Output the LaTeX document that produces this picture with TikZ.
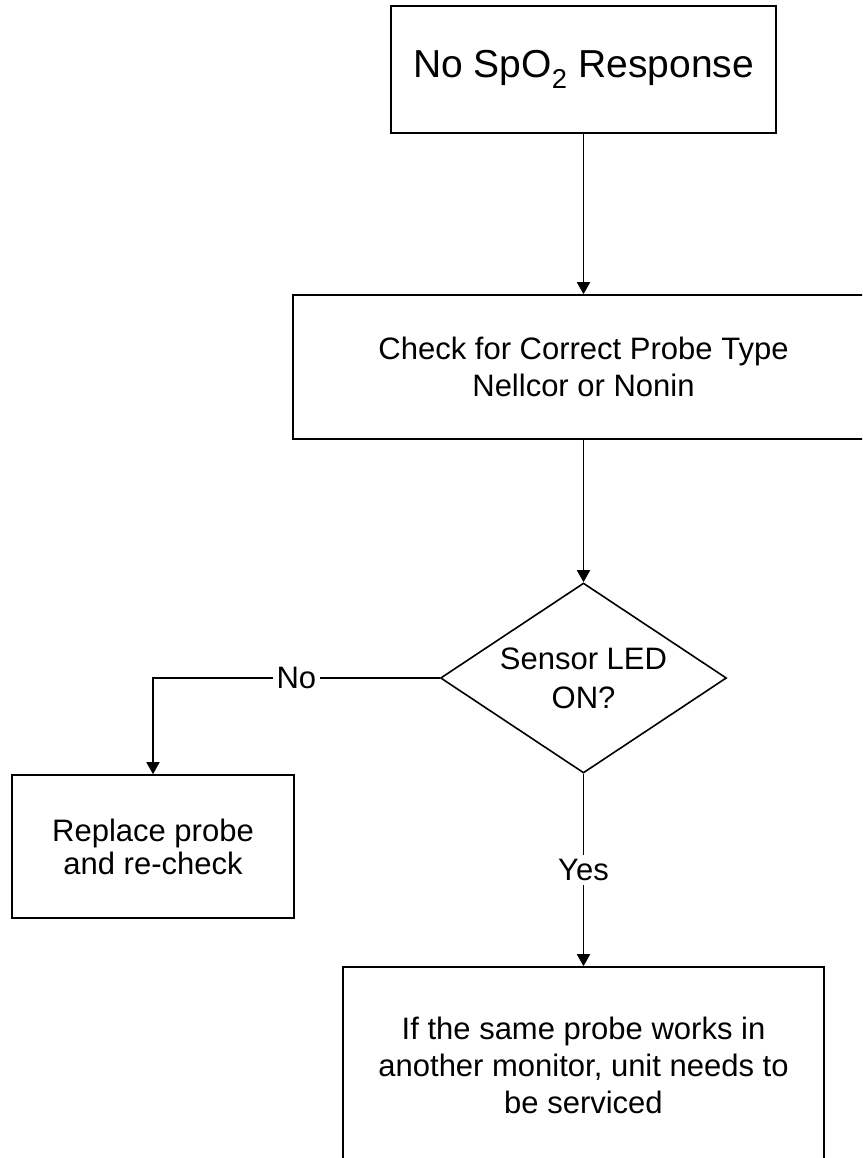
\documentclass[tikz,border=0pt]{standalone}
\usepackage{fontspec}
\setmainfont{Liberation Sans}
\usetikzlibrary{shapes.geometric,arrows.meta}

\begin{document}
\begin{tikzpicture}[x=1pt,y=-1pt,line width=1.6pt,
    >={Triangle[length=12pt,width=13pt]},
    box/.style={draw,rectangle,inner sep=0pt,align=center,
        font=\fontsize{31}{37}\selectfont},
    decision/.style={draw,diamond,aspect=1.5,inner sep=0pt,
        minimum width=286pt,minimum height=190pt,align=center,
        font=\fontsize{31}{39}\selectfont},
    lbl/.style={fill=white,inner sep=4pt,font=\fontsize{31}{37}\selectfont}]

\useasboundingbox (0,0) rectangle (862,1158);
\clip (0,0) rectangle (862,1158);

\node [box,minimum width=385pt,minimum height=127pt,
    font=\fontsize{39}{47}\selectfont] (nospo) at (583.5,69.5)
    {No SpO\textsubscript{2} Response};
\node [box,minimum width=581pt,minimum height=144pt] (check) at (583.5,367)
    {Check for Correct Probe Type\\Nellcor or Nonin};
\node [decision] (sensor) at (583.5,678) {Sensor LED\\ON?};
\node [box,minimum width=282pt,minimum height=143pt,
    font=\fontsize{31}{33}\selectfont] (replace) at (153,846.5)
    {Replace probe\\and re-check};
\node [box,minimum width=481pt,minimum height=196pt] (service) at (583.5,1065)
    {If the same probe works in\\another monitor, unit needs to\\be serviced};

\draw [->] (nospo) -- (check);
\draw [->] (check) -- (sensor);
\draw [->] (sensor.west) -| node [lbl,pos=0.25] {No} (replace.north);
\draw [->] (sensor) -- node [lbl] {Yes} (service);

\end{tikzpicture}
\end{document}
